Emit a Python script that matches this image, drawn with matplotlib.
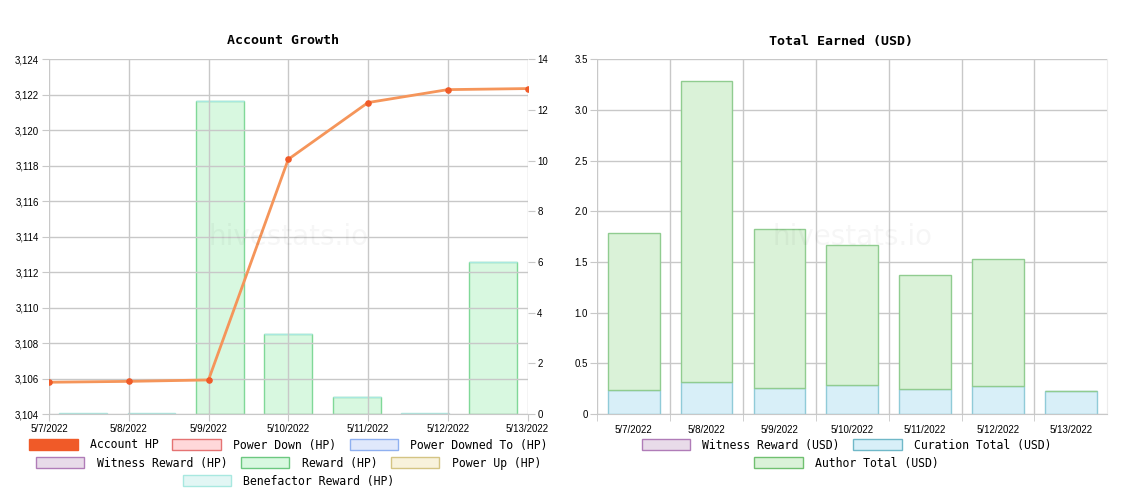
import matplotlib.pyplot as plt
import numpy as np
from matplotlib.patches import Patch
from matplotlib.ticker import FuncFormatter

# data
dates = ['5/7/2022', '5/8/2022', '5/9/2022', '5/10/2022', '5/11/2022', '5/12/2022', '5/13/2022']
account_hp = [3105.79, 3105.84, 3105.92, 3118.36, 3121.56, 3122.29, 3122.35]
reward_hp = [0, 0, 12.36, 3.15, 0.68, 0, 5.99]
benefactor_hp = [0.02, 0.02, 0, 0, 0, 0.02, 0]

witness_usd = [0, 0, 0, 0, 0, 0, 0]
curation_usd = [0.237, 0.313, 0.254, 0.283, 0.250, 0.273, 0.224]
author_usd = [1.547, 2.971, 1.569, 1.382, 1.119, 1.254, 0]

grid_c = '#c8c8c8'
tick_font = 'Liberation Sans'
mono = 'DejaVu Sans Mono'
W, H = 1126, 497

fig = plt.figure(figsize=(W / 100, H / 100), dpi=100)

x = np.arange(len(dates))


def watermark(a):
    a.text(0.5, 0.5, 'hivestats.io', transform=a.transAxes, ha='center', va='center',
           fontsize=20, color='black', alpha=0.035, zorder=10)


# ---- Account Growth ----
ax = fig.add_axes([49 / W, 1 - 414 / H, 478.5 / W, 354.7 / H])
ax2 = ax.twinx()
axb = ax2.twiny()

ax.plot(x, account_hp, color='#f5955a', lw=2, zorder=3)
ax.scatter(x, account_hp, color='#f05a28', s=14, zorder=4)
ax.set_xlim(0, len(dates) - 1)
ax.set_ylim(3104, 3124)
ax.set_yticks(np.arange(3104, 3125, 2))
ax.yaxis.set_major_formatter(FuncFormatter(lambda v, p: f'{v:,.0f}'))
ax.set_xticks(x)
ax.set_xticklabels(dates)
ax.grid(True, color=grid_c, lw=1)

axb.bar(x, reward_hp, width=0.7, color='#d8f8e0', edgecolor='#80d898', lw=1, zorder=2)
axb.bar(x, benefactor_hp, width=0.7, bottom=reward_hp, color='#e0f6f4',
        edgecolor='#a8e8e0', lw=1, zorder=2)
axb.set_xlim(-0.5, len(dates) - 0.5)
axb.set_xticks([])
ax2.set_ylim(0, 14)
ax2.set_yticks(np.arange(0, 15, 2))

ax.set_zorder(axb.get_zorder() + 1)
ax.patch.set_visible(False)

for a in (ax, ax2, axb):
    for s in a.spines.values():
        s.set_visible(False)
for a in (ax, ax2):
    a.tick_params(length=5, color=grid_c, labelsize=7, pad=2)
    for t in a.get_xticklabels() + a.get_yticklabels():
        t.set_fontfamily(tick_font)
ax.spines['bottom'].set_visible(True)
ax.spines['bottom'].set_color(grid_c)
watermark(ax)

fig.text(283 / W, 1 - 41 / H, 'Account Growth', ha='center', va='center',
         fontfamily=mono, fontweight='bold', fontsize=9.5)

# ---- Total Earned ----
bx = fig.add_axes([597.3 / W, 1 - 414 / H, 510 / W, 354.7 / H])
bx.bar(x, witness_usd, width=0.71, color='#e8dbe9', edgecolor='#b07cb8', lw=1, zorder=2)
bx.bar(x, curation_usd, width=0.71, color='#d8eff8', edgecolor='#90cbd8', lw=1, zorder=2)
bx.bar(x, author_usd, width=0.71, bottom=curation_usd, color='#daf2d8',
       edgecolor='#90cc90', lw=1, zorder=2)
bx.set_xlim(-0.5, len(dates) - 0.5)
bx.set_ylim(0, 3.5)
bx.set_yticks(np.arange(0, 3.6, 0.5))
bx.yaxis.set_major_formatter(FuncFormatter(lambda v, p: '0' if v == 0 else f'{v:.1f}'))
bx.set_xticks(x)
bx.set_xticklabels(dates)
bx.set_xticks(np.arange(-0.5, len(dates) - 1), minor=True)
bx.grid(True, axis='y', color=grid_c, lw=1, zorder=0)
bx.grid(True, axis='x', which='minor', color=grid_c, lw=1, zorder=0)
bx.tick_params(axis='x', which='major', length=0, labelsize=7, pad=8)
bx.tick_params(axis='x', which='minor', length=5, color=grid_c)
bx.tick_params(axis='y', length=5, color=grid_c, labelsize=7, pad=2)
for t in bx.get_xticklabels() + bx.get_yticklabels():
    t.set_fontfamily(tick_font)
for s in bx.spines.values():
    s.set_visible(False)
bx.spines['bottom'].set_visible(True)
bx.spines['bottom'].set_color(grid_c)
bx.spines['right'].set_visible(True)
bx.spines['right'].set_color('#ececec')
watermark(bx)

fig.text(841 / W, 1 - 41 / H, 'Total Earned (USD)', ha='center', va='center',
         fontfamily=mono, fontweight='bold', fontsize=9.5)


# ---- legends ----
def legend_row(items, xc, yc):
    handles = [Patch(facecolor=f, edgecolor=e, lw=1) for _, f, e in items]
    labels = [l for l, _, _ in items]
    fig.legend(handles, labels, loc='center', bbox_to_anchor=(xc, yc), ncol=len(items),
               frameon=False, prop={'family': mono, 'size': 8.3},
               handlelength=4.2, handleheight=1.0, handletextpad=1.05,
               columnspacing=1.2, borderpad=0, borderaxespad=0)


lx, rx = 288.5 / W, 846.5 / W
legend_row([('Account HP', '#f05a28', '#f05a28'),
            ('Power Down (HP)', '#ffd8da', '#e57373'),
            ('Power Downed To (HP)', '#e0e8fb', '#8fb0f0')], lx, 1 - 445 / H)
legend_row([('Witness Reward (HP)', '#e8dbe9', '#b07cb8'),
            ('Reward (HP)', '#d8f8e0', '#6cc880'),
            ('Power Up (HP)', '#f8f2dc', '#d4c484')], lx, 1 - 463 / H)
legend_row([('Benefactor Reward (HP)', '#e2f6f4', '#a8e8e0')], lx, 1 - 481 / H)

legend_row([('Witness Reward (USD)', '#e8dbe9', '#b07cb8'),
            ('Curation Total (USD)', '#d8eff8', '#70b8c8')], rx, 1 - 445 / H)
legend_row([('Author Total (USD)', '#daf2d8', '#70c070')], rx, 1 - 463 / H)

fig.savefig('out.png', dpi=100)
